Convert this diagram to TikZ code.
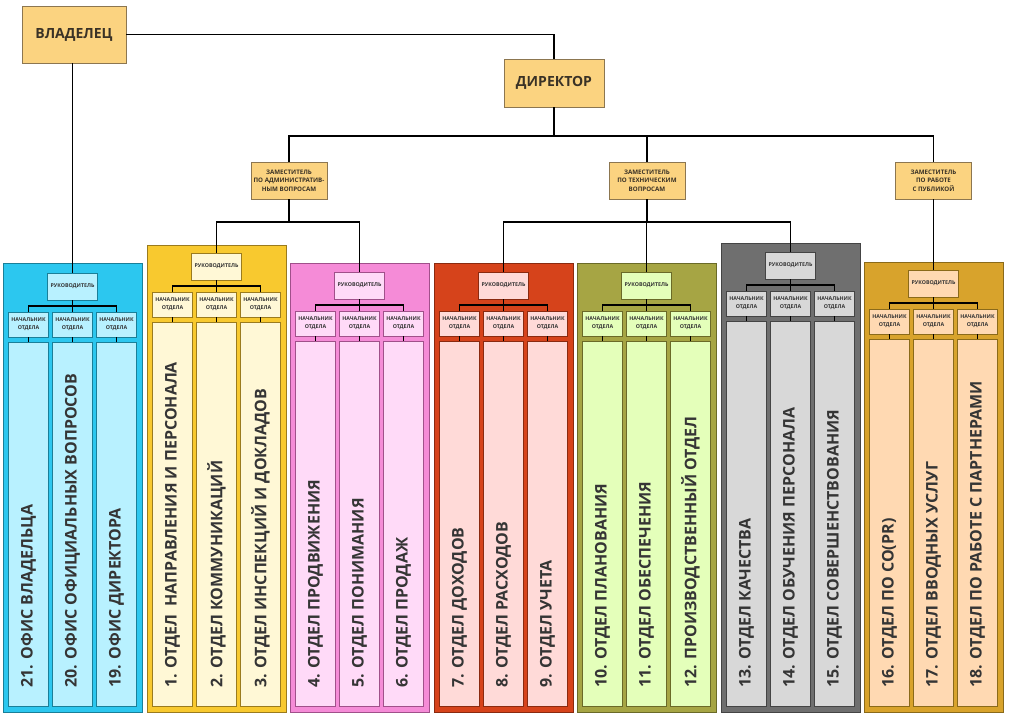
\documentclass[tikz,border=0pt]{standalone}
\usepackage{fontspec}
\setmainfont{Open Sans}
\definecolor{topfill}{HTML}{FBD380}
\definecolor{topdraw}{HTML}{8C7650}
\definecolor{toptext}{HTML}{3A3226}
\definecolor{coltext}{HTML}{353535}
\definecolor{cyP}{HTML}{2CC7EF}\definecolor{cyI}{HTML}{B8F1FF}\definecolor{cyD}{HTML}{1A7F98}
\definecolor{yeP}{HTML}{F8C92F}\definecolor{yeI}{HTML}{FFF8D6}\definecolor{yeD}{HTML}{9A7B1E}
\definecolor{piP}{HTML}{F58BD7}\definecolor{piI}{HTML}{FFDAF8}\definecolor{piD}{HTML}{A0508A}
\definecolor{orP}{HTML}{D6431B}\definecolor{orI}{HTML}{FFDAD8}\definecolor{orD}{HTML}{8A2A10}
\definecolor{grP}{HTML}{A6A544}\definecolor{grI}{HTML}{E4FFBA}\definecolor{grD}{HTML}{6A6A28}
\definecolor{gyP}{HTML}{6F6F6F}\definecolor{gyI}{HTML}{D8D8D8}\definecolor{gyD}{HTML}{444444}
\definecolor{gdP}{HTML}{D8A32C}\definecolor{gdI}{HTML}{FFD9B2}\definecolor{gdD}{HTML}{8A6A1A}
\tikzset{
  conn/.style={draw=black, line width=1.5pt},
  topbox/.style={draw=topdraw, fill=topfill, line width=0.8pt, inner sep=0pt, align=center, text=toptext},
  bigtxt/.style={font=\fontsize{14}{16}\selectfont\bfseries},
  deptxt/.style={font=\fontsize{6.2}{8.4}\selectfont\bfseries},
  panelbox/.style={line width=0.6pt},
  rukbox/.style={line width=0.6pt, minimum width=50pt, minimum height=27pt, inner sep=0pt, text=coltext, font=\fontsize{5.3}{7}\selectfont\bfseries},
  headbox/.style={line width=0.6pt, minimum width=40pt, minimum height=25pt, inner sep=0pt, align=center, text=coltext, font=\fontsize{5.3}{8}\selectfont\bfseries},
  colbox/.style={line width=0.6pt, minimum width=40pt, inner sep=0pt},
  coltxt/.style={text=coltext, inner sep=0pt, font=\fontsize{16}{18}\selectfont\bfseries}
}
% #1 id, #2 x left, #3 panel top, #4 ruk top, #5 colour prefix, #6 #7 #8 texts
\newcommand\orgpanel[8]{%
  \filldraw[panelbox, fill=#5P, draw=#5D] (#2,-#3) rectangle (#2+139,-712);
  \node[rukbox, fill=#5I, draw=#5D] (#1r) at (#2+69.5,-#4-13.5) {РУКОВОДИТЕЛЬ};
  \node[headbox, fill=#5I, draw=#5D] (#1h1) at (#2+25.5,-#4-51.5) {НАЧАЛЬНИК\\ОТДЕЛА};
  \node[headbox, fill=#5I, draw=#5D] (#1h2) at (#2+69.5,-#4-51.5) {НАЧАЛЬНИК\\ОТДЕЛА};
  \node[headbox, fill=#5I, draw=#5D] (#1h3) at (#2+113.5,-#4-51.5) {НАЧАЛЬНИК\\ОТДЕЛА};
  \node[colbox, fill=#5I, draw=#5D, anchor=north, minimum height={(637-#4)*1pt}] (#1c1) at (#2+25.5,-#4-69) {};
  \node[colbox, fill=#5I, draw=#5D, anchor=north, minimum height={(637-#4)*1pt}] (#1c2) at (#2+69.5,-#4-69) {};
  \node[colbox, fill=#5I, draw=#5D, anchor=north, minimum height={(637-#4)*1pt}] (#1c3) at (#2+113.5,-#4-69) {};
  \node[coltxt, rotate=90, anchor=west] (#1t1) at (#2+25.5,-688) {#6};
  \node[coltxt, rotate=90, anchor=west] (#1t2) at (#2+69.5,-688) {#7};
  \node[coltxt, rotate=90, anchor=west] (#1t3) at (#2+113.5,-688) {#8};
  \draw[conn] (#1r.south) -- ++(0,-5.5) -| (#1h1.north);
  \draw[conn] (#1r.south) -- ++(0,-5.5) -| (#1h3.north);
  \draw[conn] (#1r.south) -- (#1h2.north);
  \draw[conn] (#1h1.south) -- (#1c1.north);
  \draw[conn] (#1h2.south) -- (#1c2.north);
  \draw[conn] (#1h3.south) -- (#1c3.north);
}
\begin{document}
\begin{tikzpicture}[x=1pt,y=1pt]
\useasboundingbox (0,0) rectangle (1010,-719);
\fill[white] (0,0) rectangle (1010,-719);

\orgpanel{cy}{3}{263}{273}{cy}{21. ОФИС ВЛАДЕЛЬЦА}{20. ОФИС ОФИЦИАЛЬНЫХ ВОПРОСОВ}{19. ОФИС ДИРЕКТОРА}
\orgpanel{ye}{147}{245}{253}{ye}{1. ОТДЕЛ\ \ НАПРАВЛЕНИЯ И ПЕРСОНАЛА}{2. ОТДЕЛ КОММУНИКАЦИЙ}{3. ОТДЕЛ ИНСПЕКЦИЙ И ДОКЛАДОВ}
\orgpanel{pi}{290}{263}{272}{pi}{4. ОТДЕЛ ПРОДВИЖЕНИЯ}{5. ОТДЕЛ ПОНИМАНИЯ}{6. ОТДЕЛ ПРОДАЖ}
\orgpanel{or}{434}{263}{272}{or}{7. ОТДЕЛ ДОХОДОВ}{8. ОТДЕЛ РАСХОДОВ}{9. ОТДЕЛ УЧЕТА}
\orgpanel{gr}{577}{263}{272}{gr}{10. ОТДЕЛ ПЛАНОВАНИЯ}{11. ОТДЕЛ ОБЕСПЕЧЕНИЯ}{12. ПРОИЗВОДСТВЕННЫЙ ОТДЕЛ}
\orgpanel{gy}{721}{243}{252}{gy}{13. ОТДЕЛ КАЧЕСТВА}{14. ОТДЕЛ ОБУЧЕНИЯ ПЕРСОНАЛА}{15. ОТДЕЛ СОВЕРШЕНСТВОВАНИЯ}
\orgpanel{gd}{864}{262}{270}{gd}{16. ОТДЕЛ ПО СО(PR)}{17. ОТДЕЛ ВВОДНЫХ УСЛУГ}{18. ОТДЕЛ ПО РАБОТЕ С ПАРТНЕРАМИ}

\node[topbox, bigtxt, minimum width=104pt, minimum height=57pt] (owner) at (74,-34.5) {ВЛАДЕЛЕЦ};
\node[topbox, bigtxt, minimum width=100pt, minimum height=48pt] (dir) at (554,-83) {ДИРЕКТОР};
\node[topbox, deptxt, minimum width=76pt, minimum height=37pt] (dep1) at (289,-180.5) {ЗАМЕСТИТЕЛЬ\\ПО АДМИНИСТРАТИВ-\\НЫМ ВОПРОСАМ};
\node[topbox, deptxt, minimum width=76pt, minimum height=37pt] (dep2) at (647,-180.5) {ЗАМЕСТИТЕЛЬ\\ПО ТЕХНИЧЕСКИМ\\ВОПРОСАМ};
\node[topbox, deptxt, minimum width=76pt, minimum height=37pt] (dep3) at (933.5,-180.5) {ЗАМЕСТИТЕЛЬ\\ПО РАБОТЕ\\С ПУБЛИКОЙ};

\coordinate (mbar) at (554,-136);
\coordinate (d1bar) at (289,-222);
\coordinate (d2bar) at (647,-222);

\draw[conn] (owner.east) -| (dir.north);
\draw[conn] (owner.south -| cyr.north) -- (cyr.north);
\draw[conn] (dir.south) -- (mbar);
\draw[conn] (mbar) -| (dep1.north);
\draw[conn] (mbar) -| (dep2.north);
\draw[conn] (mbar) -| (dep3.north);
\draw[conn] (dep1.south) -- (d1bar);
\draw[conn] (d1bar) -| (yer.north);
\draw[conn] (d1bar) -| (pir.north);
\draw[conn] (dep2.south) -- (d2bar);
\draw[conn] (d2bar) -| (orr.north);
\draw[conn] (d2bar) -| (grr.north);
\draw[conn] (d2bar) -| (gyr.north);
\draw[conn] (dep3.south) -- (gdr.north);
\end{tikzpicture}
\end{document}
